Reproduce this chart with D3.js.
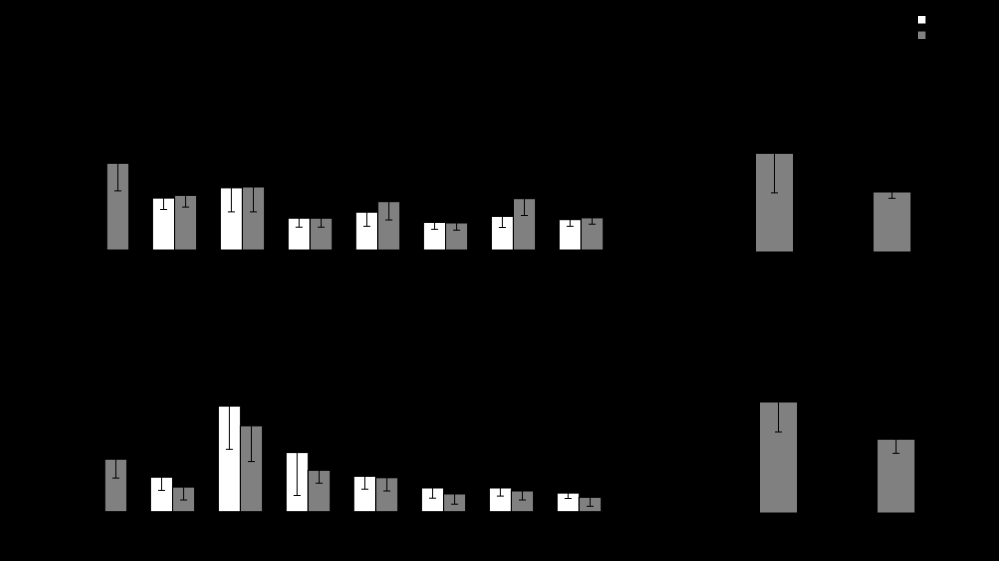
<!DOCTYPE html>
<html>
<head>
<meta charset="utf-8">
<script src="https://cdn.jsdelivr.net/npm/d3@7"></script>
<style>
  body { margin:0; background:#000; }
  svg { display:block; font-family:"Liberation Sans", Arial, sans-serif; }
</style>
</head>
<body>
<svg></svg>
<script>
//******************************data*****************************//
var groups = ["1","2","3","4","5","6","7","8"];
var series = ["A","B"];

// top panel (left)
var topA    = [0, 17.3, 20.7, 10.6, 12.6, 9.2, 11.2, 10.1];
var topAErr = [0, 3.8, 8.0, 3.0, 4.7, 2.3, 3.7, 2.2];
var topB    = [28.9, 18.2, 21.0, 10.6, 16.1, 9.0, 17.1, 10.7];
var topBErr = [9.2, 3.9, 8.3, 3.0, 6.1, 2.4, 5.6, 2.1];

// bottom panel (left)
var botA    = [0, 11.5, 35.2, 19.7, 11.8, 7.9, 7.9, 6.2];
var botAErr = [0, 4.4, 14.4, 14.3, 4.3, 3.4, 2.7, 1.8];
var botB    = [17.5, 8.2, 28.6, 13.8, 11.3, 5.9, 6.9, 4.8];
var botBErr = [6.3, 4.3, 11.9, 4.3, 4.4, 3.4, 3.0, 3.0];

// summary panels (right)
var sumCats   = ["X","Y"];
var topSum    = [32.9, 20.0];
var topSumErr = [13.2, 2.1];
var botSum    = [37.0, 24.6];
var botSumErr = [10.0, 4.7];

var yTicks = [0, 10, 20, 30, 40];

//*****************************setup********************************//
var screen = {width:999, height:561};
var svg = d3.select("svg")
  .attr("width", screen.width)
  .attr("height", screen.height);

svg.append("rect")
  .attr("width", screen.width)
  .attr("height", screen.height)
  .attr("fill", "#000");

var fills = {A:"#ffffff", B:"#808080"};

var makeRows = function(a, aErr, b, bErr)
{
  var rows = [];
  groups.forEach(function(g, i) {
    if (a[i] > 0) { rows.push({group:g, s:"A", v:a[i], e:aErr[i]}); }
    rows.push({group:g, s:"B", v:b[i], e:bErr[i]});
  });
  return rows;
};

var drawBars = function(g, rows, xPos, width, yScale)
{
  g.selectAll("rect.bar")
    .data(rows)
    .enter()
    .append("rect")
    .classed("bar", true)
    .attr("x", function(d) { return xPos(d); })
    .attr("y", function(d) { return yScale(d.v); })
    .attr("width", width)
    .attr("height", function(d) { return yScale(0) - yScale(d.v); })
    .attr("fill", function(d) { return fills[d.s]; })
    .attr("stroke", "#000")
    .attr("stroke-width", 1);

  var err = g.selectAll("g.err")
    .data(rows)
    .enter()
    .append("g")
    .classed("err", true)
    .attr("transform", function(d) { return "translate(" + (xPos(d) + width / 2) + ",0)"; });
  err.append("line")
    .attr("y1", function(d) { return yScale(d.v + d.e); })
    .attr("y2", function(d) { return yScale(d.v - d.e); })
    .attr("stroke", "#000");
  err.append("line")
    .attr("x1", -3.5).attr("x2", 3.5)
    .attr("y1", function(d) { return yScale(d.v - d.e); })
    .attr("y2", function(d) { return yScale(d.v - d.e); })
    .attr("stroke", "#000");
  err.append("line")
    .attr("x1", -3.5).attr("x2", 3.5)
    .attr("y1", function(d) { return yScale(d.v + d.e); })
    .attr("y2", function(d) { return yScale(d.v + d.e); })
    .attr("stroke", "#000");
};

var drawAxes = function(xScale, yScale, title)
{
  var yAxis = d3.axisLeft(yScale).tickValues(yTicks);
  var ya = svg.append("g")
    .attr("transform", "translate(" + (xScale.range()[0] - 5) + ",0)")
    .call(yAxis);
  ya.selectAll("path,line").attr("stroke", "#000");
  ya.selectAll("text").attr("fill", "#000");
  var xa = svg.append("g")
    .attr("transform", "translate(0," + yScale(0) + ")")
    .call(d3.axisBottom(xScale).tickSize(0));
  xa.selectAll("path").attr("stroke", "#000");
  xa.selectAll("text").attr("fill", "#000");
  svg.append("text")
    .attr("x", d3.mean(xScale.range()))
    .attr("y", yScale(0) - 150)
    .attr("text-anchor", "middle")
    .attr("fill", "#000")
    .attr("font-size", 13)
    .text(title);
};

//*****************************left panels********************************//
var panels = [
  {x0:73, y0:250, rows:makeRows(topA, topAErr, topB, topBErr), title:"Panel A"},
  {x0:71, y0:511.7, rows:makeRows(botA, botAErr, botB, botBErr), title:"Panel B"}
];

panels.forEach(function(p)
{
  var xScale = d3.scaleBand()
    .domain(groups)
    .range([p.x0, p.x0 + 542])
    .paddingInner(0.35)
    .paddingOuter(0.175);
  var inner = d3.scaleBand()
    .domain(series)
    .range([0, xScale.bandwidth()]);
  var yScale = d3.scaleLinear()
    .domain([0, 60])
    .range([p.y0, p.y0 - 180]);
  drawAxes(xScale, yScale, p.title);
  var g = svg.append("g");
  drawBars(g, p.rows,
    function(d) { return xScale(d.group) + inner(d.s); },
    inner.bandwidth(), yScale);
});

//*****************************right panels********************************//
var sumPanels = [
  {x0:715.75, y0:252, vals:topSum, errs:topSumErr, title:"Total A"},
  {x0:719.75, y0:513, vals:botSum, errs:botSumErr, title:"Total B"}
];

sumPanels.forEach(function(p)
{
  var xScale = d3.scaleBand()
    .domain(sumCats)
    .range([p.x0, p.x0 + 235])
    .paddingInner(0.677)
    .paddingOuter(0.338);
  var yScale = d3.scaleLinear()
    .domain([0, 60])
    .range([p.y0, p.y0 - 180]);
  drawAxes(xScale, yScale, p.title);
  var rows = sumCats.map(function(c, i) { return {group:c, s:"B", v:p.vals[i], e:p.errs[i]}; });
  var g = svg.append("g");
  drawBars(g, rows,
    function(d) { return xScale(d.group); },
    xScale.bandwidth(), yScale);
});

//*****************************legend********************************//
var legend = svg.append("g")
  .classed("legend", true)
  .attr("transform", "translate(918,16)");
var legendLines = legend.selectAll("g")
  .data(series)
  .enter()
  .append("g")
  .attr("transform", function(d, i) { return "translate(0," + (i * 15.5) + ")"; });
legendLines.append("rect")
  .attr("width", 7.5)
  .attr("height", 7.5)
  .attr("fill", function(d) { return fills[d]; });
legendLines.append("text")
  .attr("x", 12)
  .attr("y", 7)
  .attr("font-size", 11)
  .attr("fill", "#000")
  .text(function(d) { return d == "A" ? "Control" : "Treated"; });
</script>
</body>
</html>
